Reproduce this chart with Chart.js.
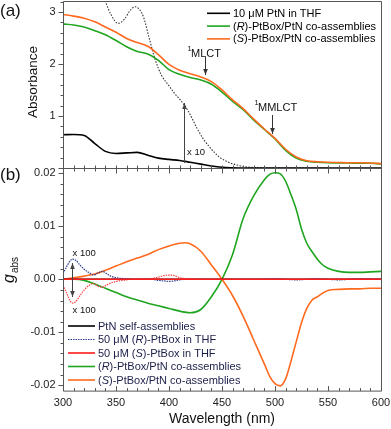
<!DOCTYPE html>
<html>
<head>
<meta charset="utf-8">
<script src="https://cdn.jsdelivr.net/npm/chart.js@4.4.0/dist/chart.umd.min.js"></script>
<style>
  body { margin: 0; background: #fff; }
  #wrap { position: relative; width: 391px; height: 429px; overflow: hidden; }
  canvas { position: absolute; left: 0; }
</style>
</head>
<body>
<div id="wrap">
  <canvas id="chartA" width="391" height="170" style="top:0px"></canvas>
  <canvas id="chartB" width="391" height="262" style="top:167px"></canvas>
</div>
<script>
// ---- panel (a): absorbance ----
const wlA = [300,310,320,330,340,350,360,370,380,390,400,410,420,430,440,450,460,470,480,490,500,510,520,530,540,550,560,570,580,590,600];
const absPtN = [0.64,0.645,0.625,0.47,0.32,0.28,0.29,0.30,0.245,0.19,0.165,0.145,0.11,0.075,0.04,0.015,0.005,0,0,0,0,0,0,0,0,0,0,0,0,0,0];
const absR = [2.77,2.75,2.71,2.64,2.56,2.45,2.33,2.24,2.19,2.07,1.89,1.80,1.74,1.69,1.61,1.46,1.28,1.12,0.92,0.74,0.56,0.34,0.19,0.13,0.11,0.10,0.095,0.095,0.09,0.09,0.08];
const absS = [2.95,2.92,2.88,2.81,2.71,2.61,2.49,2.41,2.34,2.18,1.99,1.88,1.81,1.75,1.66,1.50,1.31,1.14,0.94,0.75,0.57,0.36,0.21,0.14,0.12,0.11,0.105,0.10,0.10,0.095,0.085];
// PtN x 10 (dotted)
const wlDot = [300,320,335,340,345,352,358,363,368,372,376,381,387,393,400,405,411,418,426,432,438,447,455,462,470,480,500,550];
const absPtNx10 = [5.5,4.3,3.45,3.2,2.96,2.78,2.86,3.02,3.10,3.05,2.90,2.52,2.08,1.78,1.58,1.44,1.30,1.10,0.78,0.57,0.41,0.22,0.12,0.07,0.03,0.01,0,0];

// ---- panel (b): g_abs ----
const wlB = [300,310,320,330,340,350,360,370,380,390,400,410,415,420,430,440,450,460,470,480,490,495,500,505,510,515,520,525,530,535,540,545,550,560,570,580,590,600];
const gR = [0,0,-0.0002,-0.0009,-0.0017,-0.0025,-0.0033,-0.0039,-0.0045,-0.005,-0.0055,-0.006,-0.0062,-0.0063,-0.0057,-0.0033,0,0.0047,0.0115,0.0158,0.0188,0.0198,0.0201,0.0199,0.0185,0.016,0.0132,0.0095,0.0068,0.0052,0.0038,0.0027,0.0021,0.0015,0.0013,0.0013,0.0014,0.0015];
const gS = [0,0.0003,0.0006,0.001,0.0017,0.0025,0.0033,0.004,0.0047,0.0056,0.0063,0.0068,0.0069,0.0067,0.0053,0.0027,0,-0.0031,-0.007,-0.0115,-0.016,-0.0183,-0.0197,-0.0201,-0.0188,-0.0155,-0.0118,-0.0082,-0.0055,-0.0039,-0.0033,-0.0026,-0.0021,-0.0019,-0.0018,-0.0018,-0.0017,-0.0017];
// PtBox in THF, x 100
const wlBox = [300,303,306,309,312,316,320,325,329,333,337,341,345,350,360,370,380,390,395,400,405,410,420,430,450,480,500,520,540,560,580,600];
const gRBox = [0.0011,0.0022,0.0033,0.0038,0.0036,0.0027,0.0019,0.0012,0.0008,0.0012,0.0015,0.0011,0.0006,0.0003,0.0001,0,0.0001,-0.0002,-0.0003,-0.0004,-0.0003,-0.0001,0,0,0,0,0.0001,-0.0001,0.0001,-0.0001,0.0001,0];
const gSBox = [-0.0011,-0.0024,-0.0038,-0.0045,-0.0042,-0.0031,-0.002,-0.0011,-0.0008,-0.0013,-0.0015,-0.0011,-0.0007,-0.0004,-0.0001,0.0001,0.0001,0.0004,0.0007,0.0008,0.0007,0.0003,0.0001,0,0,0,0,0,0,0,0,0];
// unscaled zero-level lines
const wlZero = [300,600];
const gPtN = [0,0];
const gSBoxRaw = [0,0];

const xTickLabels = [300,350,400,450,500,550,600];
const yTickLabelsA = [1,2,3];
const yTickLabelsB = [-0.02,-0.01,0,0.01,0.02];

const FONT = '"Liberation Sans", Arial, sans-serif';

function pts(xs, ys) {
  return xs.map((x, i) => ({ x: x, y: ys[i] }));
}

function lineSet(label, xs, ys, color, width, dash, order, noLegend) {
  return {
    label: label, data: pts(xs, ys),
    borderColor: color, borderWidth: width, borderDash: dash || [],
    pointRadius: 0, fill: false, cubicInterpolationMode: 'monotone',
    order: order, noLegend: !!noLegend
  };
}

// text with *italic* parts
function rich(ctx, str, x, y, size, weight) {
  const parts = str.split('*');
  let cx = x;
  parts.forEach((p, i) => {
    ctx.font = (i % 2 ? 'italic ' : '') + size + 'px ' + FONT;
    ctx.fillText(p, cx, y);
    cx += ctx.measureText(p).width;
  });
}

function seg(ctx, x1, y1, x2, y2) {
  ctx.beginPath(); ctx.moveTo(x1, y1); ctx.lineTo(x2, y2); ctx.stroke();
}

function head(ctx, x, y, dir) {
  ctx.beginPath();
  ctx.moveTo(x, y);
  ctx.lineTo(x - 2.3, y - dir * 6);
  ctx.lineTo(x + 2.3, y - dir * 6);
  ctx.closePath();
  ctx.fill();
}

const deco = {
  id: 'deco',
  afterDraw(chart, args, o) {
    const ctx = chart.ctx, a = chart.chartArea;
    const sx = chart.scales.x, sy = chart.scales.y;
    const xL = a.left + 0.5, xR = a.right + 0.5, yT = a.top + 0.5, yB = a.bottom + 0.5;
    ctx.save();
    ctx.strokeStyle = '#555';
    ctx.lineWidth = 1;
    seg(ctx, xL, yT, xL, yB);
    seg(ctx, xR, yT, xR, yB);
    seg(ctx, xL, yT, xR, yT);
    seg(ctx, xL, yB, xR, yB);

    // x ticks (inward)
    for (let v = 300; v <= 600; v += 10) {
      const px = Math.round(sx.getPixelForValue(v)) + 0.5;
      const major = v % 50 === 0;
      if (o.xTop) seg(ctx, px, yT, px, yT + (major ? o.xTop[0] : o.xTop[1]));
      if (o.xBot) seg(ctx, px, yB, px, yB - (major ? o.xBot[0] : o.xBot[1]));
    }
    // y ticks (outward)
    const n = Math.round((o.yTo - o.yFrom) / o.yMinor);
    for (let i = 0; i <= n; i++) {
      const v = o.yFrom + i * o.yMinor;
      const py = Math.round(sy.getPixelForValue(v)) + 0.5;
      const r = v / o.yMajor;
      const major = Math.abs(r - Math.round(r)) < 1e-6;
      seg(ctx, xL, py, xL - (major ? 5 : 3), py);
    }

    ctx.fillStyle = '#222';
    ctx.font = '11px ' + FONT;
    ctx.textAlign = 'right';
    ctx.textBaseline = 'middle';
    o.yLabels.forEach(v => {
      ctx.fillText(o.yFmt(v), xL - 8, sy.getPixelForValue(v));
    });
    if (o.xLabels) {
      ctx.textAlign = 'center';
      o.xLabels.forEach(v => {
        ctx.fillText(String(v), sx.getPixelForValue(v), yB + 11.5);
      });
    }

    // legend
    const lg = o.legend;
    let row = 0;
    ctx.textAlign = 'left';
    ctx.textBaseline = 'middle';
    chart.data.datasets.forEach(ds => {
      if (ds.noLegend) return;
      const y = lg.y + row * lg.dy;
      ctx.strokeStyle = ds.borderColor;
      ctx.lineWidth = ds.borderWidth;
      ctx.setLineDash(ds.borderDash);
      seg(ctx, lg.x, y, lg.x + lg.len, y);
      ctx.setLineDash([]);
      ctx.fillStyle = lg.color;
      rich(ctx, ds.label, lg.x + lg.len + 3, y + 0.5, 11);
      row++;
    });

    // arrows
    ctx.lineWidth = 1;
    o.arrows.forEach(ar => {
      ctx.strokeStyle = ar.c; ctx.fillStyle = ar.c;
      seg(ctx, ar.x, ar.y1, ar.x, ar.y2);
      const dir = ar.y2 > ar.y1 ? 1 : -1;
      head(ctx, ar.x, ar.y2, dir);
      if (ar.both) head(ctx, ar.x, ar.y1, -dir);
    });

    // free texts
    o.texts.forEach(t => {
      ctx.save();
      ctx.fillStyle = t.c || '#111';
      ctx.textAlign = t.align || 'left';
      ctx.textBaseline = t.base || 'alphabetic';
      ctx.translate(t.x, t.y);
      if (t.rot) ctx.rotate(-Math.PI / 2);
      ctx.font = (t.italic ? 'italic ' : '') + t.size + 'px ' + FONT;
      ctx.fillText(t.t, 0, 0);
      ctx.restore();
    });
    ctx.restore();
  }
};
Chart.register(deco);

const baseOpts = {
  responsive: false,
  animation: false,
  devicePixelRatio: 1,
  events: []
};

// panel (a)
new Chart(document.getElementById('chartA'), {
  type: 'line',
  data: {
    datasets: [
      lineSet('10 μM PtN in THF', wlA, absPtN, '#000000', 1.6, [], 3),
      lineSet('(*R*)-PtBox/PtN co-assemblies', wlA, absR, '#1fa51f', 1.6, [], 2),
      lineSet('(*S*)-PtBox/PtN co-assemblies', wlA, absS, '#ff6a1f', 1.6, [], 1),
      lineSet('PtN x 10', wlDot, absPtNx10, '#333333', 1.1, [1.5, 1.5], 4, true)
    ]
  },
  options: Object.assign({}, baseOpts, {
    layout: { padding: { left: 63, right: 10, top: 1, bottom: 2 } },
    scales: {
      x: { type: 'linear', min: 300, max: 600, display: false },
      y: { type: 'linear', min: 0, max: 3.21, display: false }
    },
    plugins: {
      legend: { display: false },
      tooltip: { enabled: false },
      deco: {
        xBot: [3, 3],
        yFrom: 0, yTo: 3.2, yMinor: 0.2, yMajor: 1,
        yLabels: yTickLabelsA, yFmt: v => String(v),
        legend: { x: 207, y: 13.3, dy: 12.8, len: 23, color: '#000' },
        arrows: [
          { x: 205.5, y1: 57, y2: 75, c: '#333' },
          { x: 272.5, y1: 115, y2: 134, c: '#333' },
          { x: 184.5, y1: 163, y2: 103, c: '#444' }
        ],
        texts: [
          { t: '(a)', x: 0, y: 11, size: 17, base: 'middle' },
          { t: 'Absorbance', x: 33, y: 82, size: 13.5, rot: true, align: 'center', base: 'middle' },
          { t: '1', x: 187.5, y: 51, size: 7.5 },
          { t: 'MLCT', x: 191, y: 56.5, size: 11 },
          { t: '1', x: 254.5, y: 105, size: 7.5 },
          { t: 'MMLCT', x: 258, y: 110.5, size: 11 },
          { t: 'x 10', x: 187, y: 155, size: 9.5 }
        ]
      }
    }
  })
});

// panel (b)
new Chart(document.getElementById('chartB'), {
  type: 'line',
  data: {
    datasets: [
      lineSet('PtN self-assemblies', wlZero, gPtN, '#000000', 1.6, [], 3),
      lineSet('50 μM (*R*)-PtBox in THF', wlBox, gRBox, '#2b3b8f', 1.2, [1.5, 1], 2),
      lineSet('50 μM (*S*)-PtBox in THF', wlZero, gSBoxRaw, '#ff1c1c', 1.6, [], 0),
      lineSet('(*R*)-PtBox/PtN co-assemblies', wlB, gR, '#1fa51f', 1.6, [], 5),
      lineSet('(*S*)-PtBox/PtN co-assemblies', wlB, gS, '#ff6a1f', 1.6, [], 4),
      lineSet('(S)-PtBox x 100', wlBox, gSBox, '#ff4040', 1.2, [1.5, 1], 1, true)
    ]
  },
  options: Object.assign({}, baseOpts, {
    layout: { padding: { left: 63, right: 10, top: 1, bottom: 38.4 } },
    scales: {
      x: { type: 'linear', min: 300, max: 600, display: false },
      y: { type: 'linear', min: -0.021, max: 0.021, display: false }
    },
    plugins: {
      legend: { display: false },
      tooltip: { enabled: false },
      deco: {
        xTop: [5, 3], xBot: [5, 3],
        yFrom: -0.02, yTo: 0.02, yMinor: 0.002, yMajor: 0.01,
        yLabels: yTickLabelsB, yFmt: v => v.toFixed(2),
        xLabels: xTickLabels,
        legend: { x: 68, y: 159, dy: 13.5, len: 27, color: '#1c1f4a' },
        arrows: [
          { x: 72.5, y1: 96, y2: 130, c: '#444', both: true }
        ],
        texts: [
          { t: '(b)', x: 0, y: 8, size: 17, base: 'middle' },
          { t: 'g', x: 14, y: 116, size: 16, rot: true, italic: true },
          { t: 'abs', x: 18, y: 106, size: 10, rot: true },
          { t: 'x 100', x: 72.5, y: 88.5, size: 9.5 },
          { t: 'x 100', x: 72.5, y: 146, size: 9.5 },
          { t: 'Wavelength (nm)', x: 222, y: 252, size: 14, align: 'center', base: 'middle' }
        ]
      }
    }
  })
});
</script>
</body>
</html>
